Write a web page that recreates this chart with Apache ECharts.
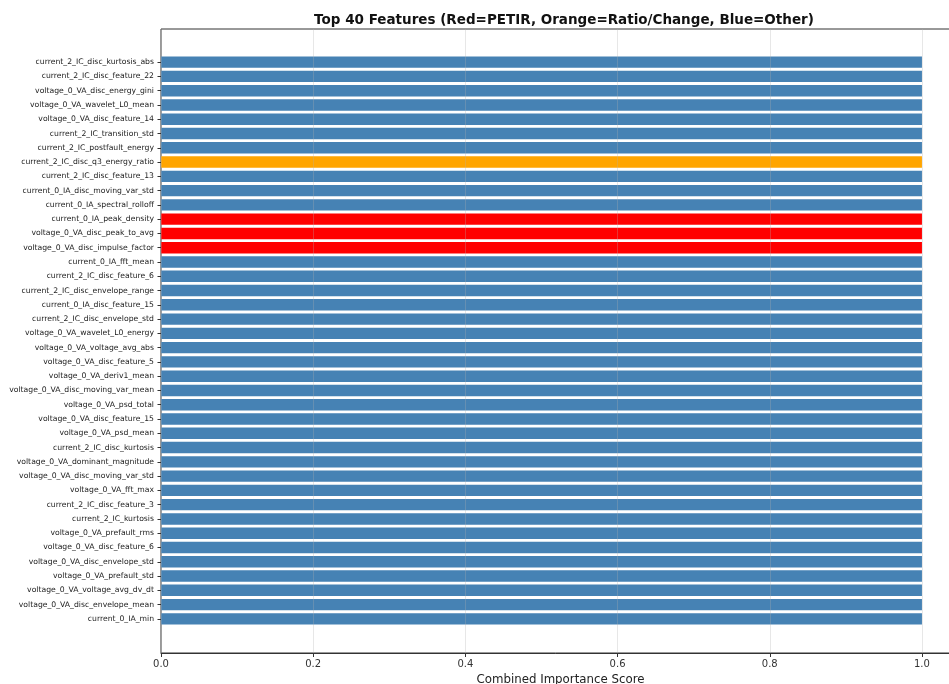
<!DOCTYPE html>
<html>
<head>
<meta charset="utf-8">
<script src="https://cdn.jsdelivr.net/npm/echarts@6/dist/echarts.min.js"></script>
<style>
  html, body { margin: 0; padding: 0; background: #fff; }
  #chart { width: 949px; height: 684px; }
</style>
</head>
<body>
<div id="chart"></div>
<script>
// Feature names, top to bottom
const features = [
  'current_2_IC_disc_kurtosis_abs',
  'current_2_IC_disc_feature_22',
  'voltage_0_VA_disc_energy_gini',
  'voltage_0_VA_wavelet_L0_mean',
  'voltage_0_VA_disc_feature_14',
  'current_2_IC_transition_std',
  'current_2_IC_postfault_energy',
  'current_2_IC_disc_q3_energy_ratio',
  'current_2_IC_disc_feature_13',
  'current_0_IA_disc_moving_var_std',
  'current_0_IA_spectral_rolloff',
  'current_0_IA_peak_density',
  'voltage_0_VA_disc_peak_to_avg',
  'voltage_0_VA_disc_impulse_factor',
  'current_0_IA_fft_mean',
  'current_2_IC_disc_feature_6',
  'current_2_IC_disc_envelope_range',
  'current_0_IA_disc_feature_15',
  'current_2_IC_disc_envelope_std',
  'voltage_0_VA_wavelet_L0_energy',
  'voltage_0_VA_voltage_avg_abs',
  'voltage_0_VA_disc_feature_5',
  'voltage_0_VA_deriv1_mean',
  'voltage_0_VA_disc_moving_var_mean',
  'voltage_0_VA_psd_total',
  'voltage_0_VA_disc_feature_15',
  'voltage_0_VA_psd_mean',
  'current_2_IC_disc_kurtosis',
  'voltage_0_VA_dominant_magnitude',
  'voltage_0_VA_disc_moving_var_std',
  'voltage_0_VA_fft_max',
  'current_2_IC_disc_feature_3',
  'current_2_IC_kurtosis',
  'voltage_0_VA_prefault_rms',
  'voltage_0_VA_disc_feature_6',
  'voltage_0_VA_disc_envelope_std',
  'voltage_0_VA_prefault_std',
  'voltage_0_VA_voltage_avg_dv_dt',
  'voltage_0_VA_disc_envelope_mean',
  'current_0_IA_min'
];

// Combined importance score per feature
const scores = [
  1.0, 1.0, 1.0, 1.0, 1.0, 1.0, 1.0, 1.0, 1.0, 1.0,
  1.0, 1.0, 1.0, 1.0, 1.0, 1.0, 1.0, 1.0, 1.0, 1.0,
  1.0, 1.0, 1.0, 1.0, 1.0, 1.0, 1.0, 1.0, 1.0, 1.0,
  1.0, 1.0, 1.0, 1.0, 1.0, 1.0, 1.0, 1.0, 1.0, 1.0
];

// Feature group: P = PETIR, R = ratio/change, O = other
const groups = [
  'O','O','O','O','O','O','O','R','O','O',
  'O','P','P','P','O','O','O','O','O','O',
  'O','O','O','O','O','O','O','O','O','O',
  'O','O','O','O','O','O','O','O','O','O'
];

const xTicks = [0, 0.2, 0.4, 0.6, 0.8, 1.0];

const groupColors = { P: '#ff0000', R: '#ffa500', O: '#4682b4' };
const FONT = 'DejaVu Sans';

const chart = echarts.init(document.getElementById('chart'), null, { renderer: 'canvas' });

const barData = scores.map((v, i) => ({
  value: v,
  itemStyle: { color: groupColors[groups[i]] }
}));

chart.setOption({
  animation: false,
  backgroundColor: '#ffffff',
  title: {
    text: 'Top 40 Features (Red=PETIR, Orange=Ratio/Change, Blue=Other)',
    left: 559,
    top: 8,
    textAlign: 'center',
    textStyle: { fontFamily: FONT, fontSize: 13.5, fontWeight: 'bold', color: '#111' }
  },
  grid: [
    // outer frame with value axis and grid lines
    { left: 161, top: 29, width: 799, height: 624, show: true,
      outerBoundsMode: 'none', containLabel: false,
      borderColor: '#333', borderWidth: 1, backgroundColor: 'transparent' },
    // category band region holding the bars
    { left: 161, top: 55, width: 799, height: 571,
      outerBoundsMode: 'none', containLabel: false }
  ],
  xAxis: [
    {
      gridIndex: 0, type: 'value', min: 0, max: 1.05, interval: 0.2,
      z: 5,
      name: 'Combined Importance Score',
      nameLocation: 'middle', nameGap: 18,
      nameTextStyle: { fontFamily: FONT, fontSize: 11.8, color: '#222' },
      axisLine: { show: true, lineStyle: { color: '#333', width: 1 } },
      axisTick: { show: true, length: 4, lineStyle: { color: '#333' } },
      axisLabel: {
        fontFamily: FONT, fontSize: 10, color: '#333', margin: 6,
        formatter: v => (v > 1.0001 ? '' : xTicks.includes(+v.toFixed(1)) ? v.toFixed(1) : '')
      },
      splitLine: { show: true, lineStyle: { color: 'rgba(176,176,176,0.3)', width: 1 } }
    },
    { gridIndex: 1, type: 'value', min: 0, max: 1.05, show: false }
  ],
  yAxis: [
    { gridIndex: 0, type: 'value', min: 0, max: 1, show: false },
    {
      gridIndex: 1, type: 'category', data: features, inverse: true,
      axisLine: { show: false },
      axisTick: { show: true, length: 3.5, alignWithLabel: true, lineStyle: { color: '#333' } },
      axisLabel: { fontFamily: FONT, fontSize: 7.7, color: '#222', margin: 7, interval: 0 },
      splitLine: { show: false }
    }
  ],
  series: [{
    type: 'bar',
    xAxisIndex: 1, yAxisIndex: 1,
    barWidth: '80%',
    data: barData,
    z: 2
  }]
});
</script>
</body>
</html>
